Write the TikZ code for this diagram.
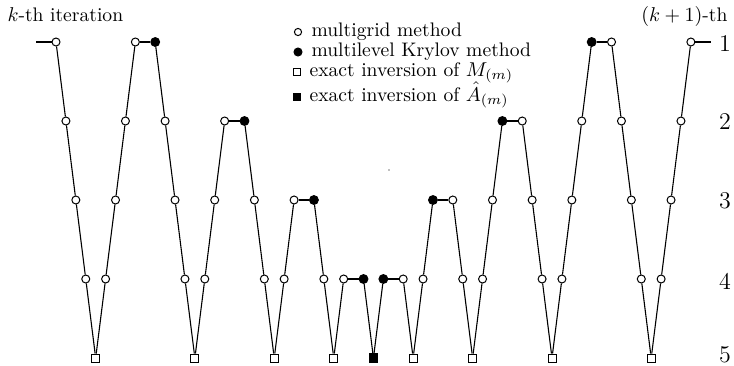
\documentclass[tikz,border=0pt]{standalone}
\usepackage{amsmath}
\begin{document}
\begin{tikzpicture}[x=0.5pt,y=-0.5pt,
  line width=0.55pt,
  mgnode/.style={circle,draw=black,fill=white,line width=0.5pt,inner sep=0pt,minimum size=4pt},
  mknode/.style={circle,draw=black,fill=black,line width=0.5pt,inner sep=0pt,minimum size=4.4pt},
  exsq/.style={rectangle,draw=black,fill=white,line width=0.5pt,inner sep=0pt,minimum size=4pt},
  exfsq/.style={rectangle,draw=black,fill=black,line width=0.5pt,inner sep=0pt,minimum size=4.2pt},
  txt/.style={inner sep=0pt,font=\fontsize{9.8}{12}\selectfont},
  lvl/.style={inner sep=0pt,font=\large}]
\useasboundingbox (0,0) rectangle (734,365);
% cycle nodes
\foreach \i/\l/\t [count=\k from 0] in {
 0/1/mgnode, 1/2/mgnode, 2/3/mgnode, 3/4/mgnode, 4/5/exsq, 5/4/mgnode, 6/3/mgnode, 7/2/mgnode, 8/1/mgnode,
 10/1/mknode, 11/2/mgnode, 12/3/mgnode, 13/4/mgnode, 14/5/exsq, 15/4/mgnode, 16/3/mgnode, 17/2/mgnode,
 19/2/mknode, 20/3/mgnode, 21/4/mgnode, 22/5/exsq, 23/4/mgnode, 24/3/mgnode,
 26/3/mknode, 27/4/mgnode, 28/5/exsq, 29/4/mgnode,
 31/4/mknode, 32/5/exfsq, 33/4/mknode,
 35/4/mgnode, 36/5/exsq, 37/4/mgnode, 38/3/mknode,
 40/3/mgnode, 41/4/mgnode, 42/5/exsq, 43/4/mgnode, 44/3/mgnode, 45/2/mknode,
 47/2/mgnode, 48/3/mgnode, 49/4/mgnode, 50/5/exsq, 51/4/mgnode, 52/3/mgnode, 53/2/mgnode, 54/1/mknode,
 56/1/mgnode, 57/2/mgnode, 58/3/mgnode, 59/4/mgnode, 60/5/exsq, 61/4/mgnode, 62/3/mgnode, 63/2/mgnode, 64/1/mgnode}
{
  \pgfmathsetmacro\xx{56+9.92*\i}
  \pgfmathsetmacro\yy{42+79*(\l-1)}
  \node[\t] (n\k) at (\xx,\yy) {};
}
\coordinate (start) at (36,42);
\coordinate (finish) at (711,42);
\draw (start) -- (n0);
\foreach \k in {0,...,55} {
  \pgfmathtruncatemacro\kn{\k+1}
  \draw (n\k) -- (n\kn);
}
\draw (n56) -- (finish);
% labels
\node[txt,anchor=base west] (kth) at (7,21) {$k$-th iteration};
\node[txt,anchor=base east] (k1th) at (728,21) {$(k+1)$-th};
\foreach \l/\yy in {1/44,2/122,3/201,4/281,5/355} {
  \node[lvl] (lv\l) at (725,\yy) {\l};
}
% legend
\node[mgnode,minimum size=3.6pt] (lg1) at (298,32) {};
\node[txt,anchor=base west] (lt1) at (311,36) {multigrid method};
\node[mknode,minimum size=4pt] (lg2) at (298,52) {};
\node[txt,anchor=base west] (lt2) at (311,56) {multilevel Krylov method};
\node[exsq,minimum size=3.4pt] (lg3) at (297,72) {};
\node[txt,anchor=base west,text depth=1.5pt] (lt3) at (309,76) {exact inversion of $M_{(m)}$};
\node[exfsq,minimum size=3.4pt] (lg4) at (297,97) {};
\node[txt,anchor=base west,text height=7pt] (lt4) at (309,101) {exact inversion of $\hat{A}_{(m)}$};
% stray dot
\fill[gray] (389,170) circle (0.4pt);
\end{tikzpicture}
\end{document}
